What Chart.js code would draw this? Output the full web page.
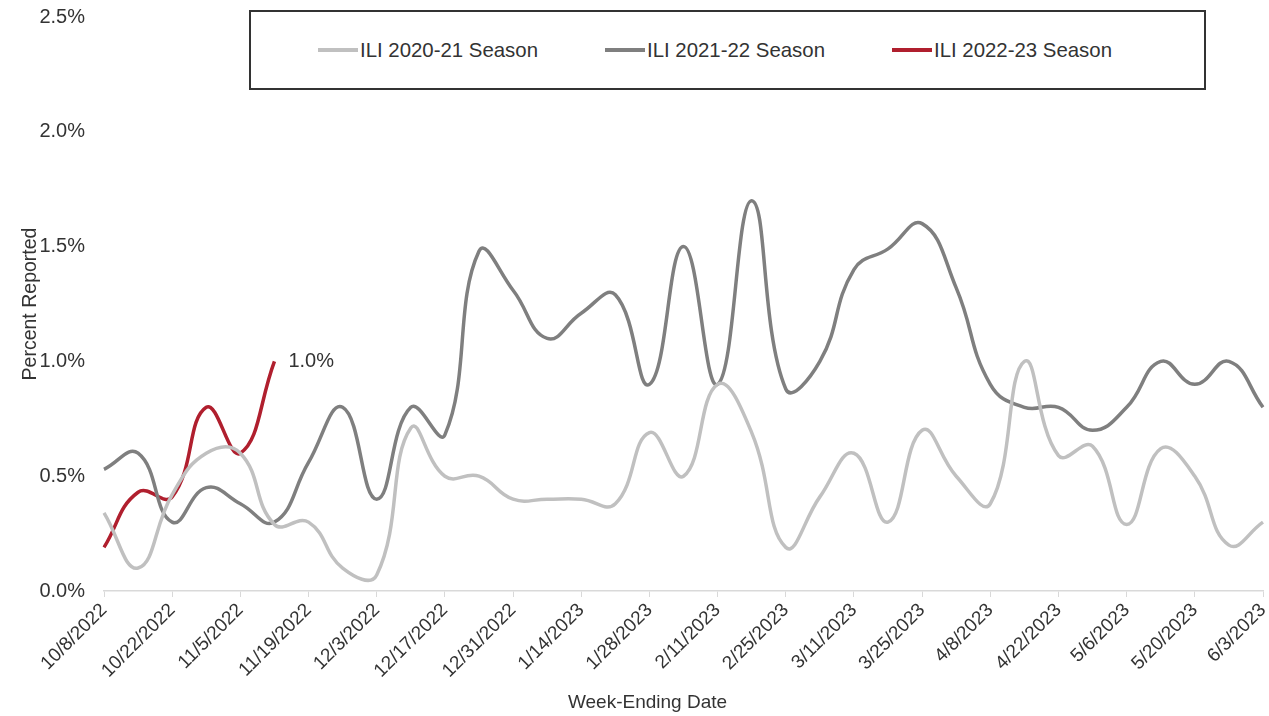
<!DOCTYPE html>
<html lang="en">
<head>
<meta charset="UTF-8">
<title>ILI Percent Reported</title>
<script src="https://cdn.jsdelivr.net/npm/chart.js"></script>
<style>
  html, body { margin: 0; padding: 0; background: #fff; }
  .wrap { position: relative; width: 1269px; height: 716px; }
  #chart { position: absolute; left: 0; top: 0; }
  .legend {
    position: absolute; left: 249px; top: 10px; width: 957px; height: 80px;
    box-sizing: border-box; border: 2px solid #333; background: #fff;
    display: flex; align-items: center; gap: 67px; padding-left: 67px;
    font-family: "Liberation Sans", Arial, sans-serif; font-size: 20.4px; color: #333;
  }
  .legend .item { display: flex; align-items: center; white-space: nowrap; }
  .legend .swatch { width: 40px; height: 4px; margin-right: 2px; }
</style>
</head>
<body>
<div class="wrap">
  <canvas id="chart" width="1269" height="716"></canvas>
  <div class="legend" id="legend"></div>
</div>
<script>
const weeks = ['10/8/2022', '10/15/2022', '10/22/2022', '10/29/2022', '11/5/2022', '11/12/2022',
  '11/19/2022', '11/26/2022', '12/3/2022', '12/10/2022', '12/17/2022', '12/24/2022', '12/31/2022',
  '1/7/2023', '1/14/2023', '1/21/2023', '1/28/2023', '2/4/2023', '2/11/2023', '2/18/2023',
  '2/25/2023', '3/4/2023', '3/11/2023', '3/18/2023', '3/25/2023', '4/1/2023', '4/8/2023',
  '4/15/2023', '4/22/2023', '4/29/2023', '5/6/2023', '5/13/2023', '5/20/2023', '5/27/2023', '6/3/2023'];

// percent of visits reported as ILI
const season2021 = [0.34, 0.10, 0.42, 0.60, 0.60, 0.29, 0.30, 0.10, 0.07, 0.71, 0.50, 0.50, 0.40,
  0.40, 0.40, 0.38, 0.69, 0.50, 0.90, 0.69, 0.19, 0.41, 0.60, 0.30, 0.70, 0.50, 0.38,
  1.00, 0.59, 0.63, 0.29, 0.62, 0.50, 0.20, 0.30];
const season2122 = [0.53, 0.60, 0.30, 0.45, 0.38, 0.30, 0.56, 0.80, 0.40, 0.80, 0.68, 1.48, 1.31,
  1.10, 1.21, 1.29, 0.90, 1.50, 0.90, 1.70, 0.88, 1.00, 1.40, 1.49, 1.60, 1.32, 0.90,
  0.80, 0.80, 0.70, 0.80, 1.00, 0.90, 1.00, 0.80];
const season2223 = [0.19, 0.43, 0.41, 0.80, 0.60, 1.00];

const seriesNames = ['ILI 2020-21 Season', 'ILI 2021-22 Season', 'ILI 2022-23 Season'];
const seriesColors = ['#c0c0c0', '#7f7f7f', '#b01f2e'];

const font = '"Liberation Sans", Arial, sans-serif';
const textColor = '#333';

// "1.0%" next to the last point of the current season, and the x title
const extras = {
  id: 'extras',
  afterDraw(chart) {
    const meta = chart.getDatasetMeta(2);
    const pt = meta.data[meta.data.length - 1];
    const val = season2223[season2223.length - 1];
    const ctx = chart.ctx;
    ctx.save();
    ctx.font = '20px ' + font;
    ctx.fillStyle = textColor;
    ctx.textBaseline = 'middle';
    ctx.fillText(val.toFixed(1) + '%', pt.x + 14, pt.y);
    // excel centres the axis title on the whole plot, not the inner area
    ctx.font = '19px ' + font;
    ctx.textAlign = 'center';
    ctx.fillText('Week-Ending Date', (chart.width + 26) / 2, chart.height - 13);
    ctx.restore();
  }
};

const chart = new Chart(document.getElementById('chart'), {
  type: 'line',
  data: {
    labels: weeks,
    datasets: [season2021, season2122, season2223].map((d, i) => ({
      label: seriesNames[i],
      data: d,
      borderColor: seriesColors[i],
      borderWidth: 3.5,
      pointRadius: 0,
      tension: 0.45,
      fill: false
    }))
  },
  options: {
    responsive: false,
    animation: false,
    layout: { padding: { top: 17, right: 6, left: 0, bottom: 0 } },
    plugins: { legend: { display: false }, tooltip: { enabled: false } },
    scales: {
      x: {
        grid: { drawOnChartArea: false, drawTicks: true, tickLength: 6, color: '#d9d9d9' },
        border: { color: '#d9d9d9', width: 1.5 },
        ticks: {
          autoSkip: false, minRotation: 45, maxRotation: 45, padding: 2,
          color: textColor, font: { family: font, size: 19 },
          callback: (v, i) => (i % 2 ? null : weeks[i])
        },
        afterFit: s => { s.height = 125; s.paddingRight = 0; s.paddingLeft = 0; }
      },
      y: {
        min: 0, max: 2.5,
        grid: { display: false, drawTicks: false },
        border: { display: false },
        ticks: { stepSize: 0.5, padding: 19, color: textColor, font: { family: font, size: 20 },
          callback: v => v.toFixed(1) + '%' },
        title: { display: true, text: 'Percent Reported', color: textColor,
          font: { family: font, size: 19.5 }, padding: { top: 19, bottom: 0 } },
        afterFit: s => { s.width = 104; s.paddingTop = 0; s.paddingBottom = 0; }
      }
    }
  },
  plugins: [extras]
});

// legend box built from the datasets
const legendEl = document.getElementById('legend');
chart.data.datasets.forEach(ds => {
  const item = document.createElement('div');
  item.className = 'item';
  const sw = document.createElement('span');
  sw.className = 'swatch';
  sw.style.background = ds.borderColor;
  const txt = document.createElement('span');
  txt.textContent = ds.label;
  item.appendChild(sw);
  item.appendChild(txt);
  legendEl.appendChild(item);
});
</script>
</body>
</html>
